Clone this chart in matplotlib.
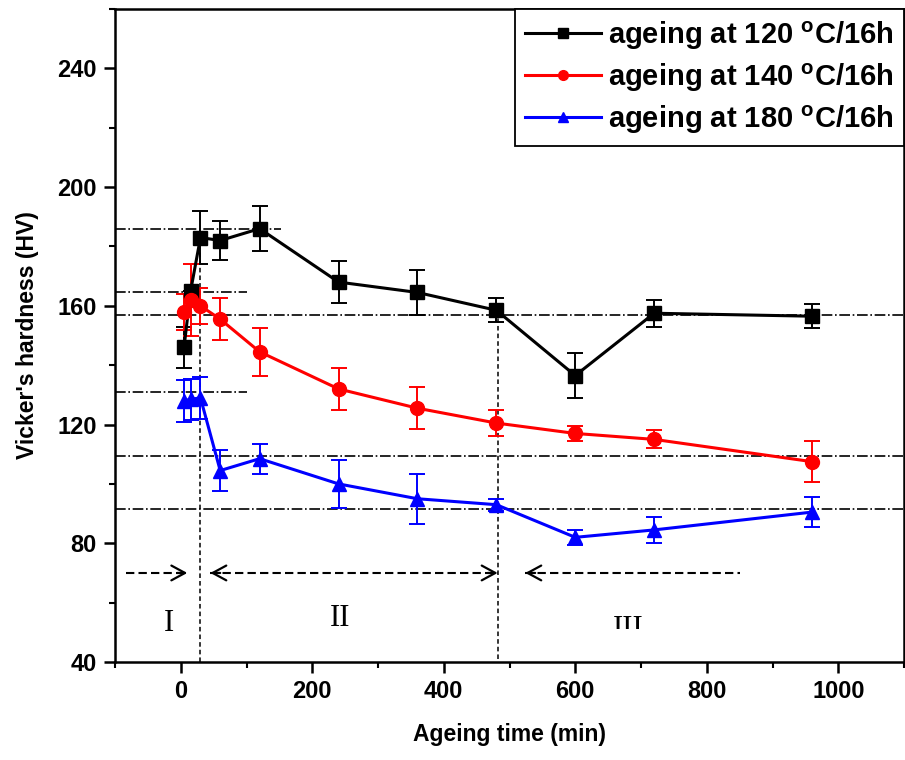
import numpy as np
import matplotlib
matplotlib.use("Agg")
from matplotlib import pyplot as plt
from matplotlib.lines import Line2D
from matplotlib.patches import Rectangle

# ageing times (min)
t = [5, 15, 30, 60, 120, 240, 360, 480, 600, 720, 960]

hv_120 = [146, 165, 183, 182, 186, 168, 164.5, 158.5, 136.5, 157.5, 156.5]
err_120 = [7, 0, 9, 6.5, 7.5, 7, 7.5, 4, 7.5, 4.5, 4]

hv_140 = [158, 162, 160, 155.5, 144.5, 132, 125.5, 120.5, 117, 115, 107.5]
err_140 = [6, 12, 6, 7, 8, 7, 7, 4.5, 2.5, 3, 7]

hv_180 = [128, 128.5, 129, 104.5, 108.5, 100, 95, 93, 82, 84.5, 90.5]
err_180 = [7, 7, 7, 7, 5, 8, 8.5, 2, 2.5, 4.5, 5]

labels = ["ageing at 120 $^\\mathregular{o}$C/16h",
          "ageing at 140 $^\\mathregular{o}$C/16h",
          "ageing at 180 $^\\mathregular{o}$C/16h"]

# dash-dot guide levels and how far they run (x end)
guide_y = [186, 164.7, 157, 131, 109.5, 91.5]
guide_xend = [152, 100, 1100, 100, 1100, 1100]

plt.rcParams["font.family"] = "Liberation Sans"
plt.rcParams["font.weight"] = "bold"
plt.rcParams["axes.labelweight"] = "bold"

fig = plt.figure(figsize=(9.05, 7.6), dpi=100)
ax = fig.add_axes([115 / 905, 98 / 760, 789 / 905, 653 / 760])

for y, xe in zip(guide_y, guide_xend):
    ax.plot([-100, xe], [y, y], color="black", lw=1.2, ls="-.", zorder=1)

ax.plot([30, 30], [40, 182], color="black", lw=1.1, ls=(0, (3, 2)), zorder=1)
ax.plot([482, 482], [41, 158], color="black", lw=1.1, ls=(0, (3, 2)), zorder=1)

colors = ["black", "red", "blue"]
markers = ["s", "o", "^"]
for y, e, c, m in zip([hv_120, hv_140, hv_180], [err_120, err_140, err_180],
                      colors, markers):
    ax.errorbar(t, y, yerr=e, color=c, marker=m, ms=10, lw=2.2,
                elinewidth=1.4, capsize=6, capthick=1.4, zorder=3)

# region arrows: dashed shafts with solid open heads
head = dict(arrowstyle="->,head_length=0.7,head_width=0.38", lw=1.6,
            color="black", mutation_scale=14, shrinkA=0, shrinkB=0)
shafts = [(-84, 10), (45, 482), (524, 851)]
for x0, x1 in shafts:
    ax.plot([x0, x1], [70, 70], color="black", lw=1.5, ls=(0, (4, 2)), zorder=2)
ax.annotate("", xy=(10, 70), xytext=(-5, 70), arrowprops=head)
ax.annotate("", xy=(45, 70), xytext=(60, 70), arrowprops=head)
ax.annotate("", xy=(482, 70), xytext=(467, 70), arrowprops=head)
ax.annotate("", xy=(524, 70), xytext=(539, 70), arrowprops=head)

ax.text(-18, 53, "I", family="Liberation Serif", fontweight="normal",
        fontsize=22, ha="center", va="center")
ax.text(243, 54.5, "II", family="Liberation Serif", fontweight="normal",
        fontsize=22, ha="center", va="center")
ax.text(681, 51.1, "III", family="Liberation Serif", fontweight="normal",
        fontsize=22, ha="center", va="center", zorder=4)
# lower part of "III" is cut off in the source figure
ax.add_patch(Rectangle((600, 40.5), 180, 10.6, facecolor="white",
                       edgecolor="none", zorder=5))

ax.set_xlim(-100, 1100)
ax.set_ylim(40, 260)
ax.set_xticks([0, 200, 400, 600, 800, 1000])
ax.set_xticks(np.arange(-100, 1101, 100), minor=True)
ax.set_yticks([40, 80, 120, 160, 200, 240])
ax.set_yticks(np.arange(40, 261, 20), minor=True)
ax.tick_params(which="major", direction="out", length=8, width=1.8,
               labelsize=17, pad=5, top=False, right=False)
ax.tick_params(which="minor", direction="out", length=4.5, width=1.5,
               top=False, right=False)
for s in ax.spines.values():
    s.set_linewidth(1.8)

ax.set_xlabel("Ageing time (min)", fontsize=16.5, labelpad=14)
ax.set_ylabel("Vicker's hardness (HV)", fontsize=16.5, labelpad=13)

handles = [Line2D([], [], color=c, marker=m, ms=7, lw=2.2)
           for c, m in zip(colors, markers)]
leg = ax.legend(handles, labels, loc="upper right", borderaxespad=0,
                fontsize=21, fancybox=False, framealpha=1, edgecolor="black",
                handlelength=2.6, handletextpad=0.25, labelspacing=0.33,
                borderpad=0.35)
leg.get_frame().set_linewidth(1.3)

fig.savefig("out.png", dpi=100)
